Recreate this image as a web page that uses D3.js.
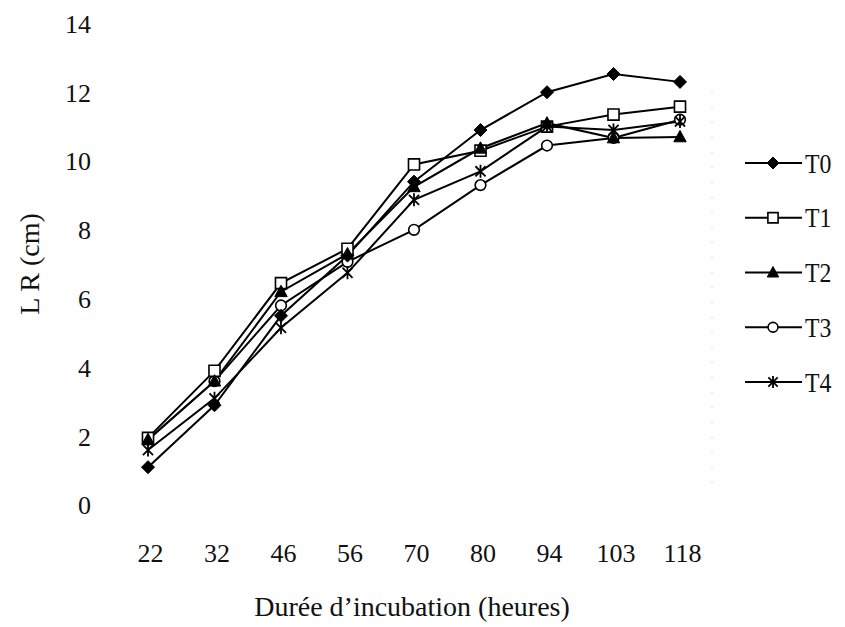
<!DOCTYPE html>
<html>
<head>
<meta charset="utf-8">
<script src="https://cdn.jsdelivr.net/npm/d3@7"></script>
<style>
  html, body { margin: 0; padding: 0; background: #fff; }
  svg { display: block; }
  text { font-family: "Liberation Serif", "Times New Roman", serif; fill: #111; }
</style>
</head>
<body>
<svg id="chart" width="845" height="627"></svg>
<script>
// Incubation durations (hours)
const categories = ["22", "32", "46", "56", "70", "80", "94", "103", "118"];
// Root length (cm) per treatment
const seriesNames = ["T0", "T1", "T2", "T3", "T4"];
const t0 = [1.1, 2.9, 5.5, 7.25, 9.4, 10.9, 12.0, 12.53, 12.3];
const t1 = [1.95, 3.9, 6.45, 7.45, 9.9, 10.3, 11.0, 11.35, 11.58];
const t2 = [1.9, 3.6, 6.2, 7.3, 9.25, 10.37, 11.1, 10.67, 10.7];
const t3 = [1.9, 3.6, 5.8, 7.07, 8.0, 9.3, 10.45, 10.67, 11.2];
const t4 = [1.6, 3.1, 5.15, 6.75, 8.87, 9.7, 11.0, 10.9, 11.15];
const yTicks = [0, 2, 4, 6, 8, 10, 12, 14];
const markerKinds = ["diamond", "square", "triangle", "circle", "star"];
// Order in which marker layers are stacked (open circles at the bottom)
const markerStack = ["T3", "T0", "T1", "T2", "T4"];

const seriesValues = [t0, t1, t2, t3, t4];
const series = seriesNames.map((name, i) => ({
  name,
  marker: markerKinds[i],
  points: categories.map((c, j) => ({ cat: c, value: seriesValues[i][j] }))
}));

const svg = d3.select("#chart");

const x = d3.scalePoint().domain(categories).range([148, 680]);
const y = d3.scaleLinear().domain([0, 14]).range([505, 23.4]);

// Marker path generators, centred on the origin
function markerPath(kind, s) {
  switch (kind) {
    case "diamond":
      return `M0,${-s}L${s},0L0,${s}L${-s},0Z`;
    case "square":
      return `M${-s * 0.85},${-s * 0.85}h${s * 1.7}v${s * 1.7}h${-s * 1.7}Z`;
    case "triangle":
      return `M0,${-s}L${s * 0.95},${s * 0.75}L${-s * 0.95},${s * 0.75}Z`;
    case "circle":
      return d3.symbol(d3.symbolCircle, Math.PI * (s * 0.82) ** 2)();
    case "star": {
      const d = s * 0.78;
      return `M0,${-s}V${s}M${-d},${-d}L${d},${d}M${d},${-d}L${-d},${d}`;
    }
  }
}
function markerStyle(sel, kind) {
  if (kind === "diamond" || kind === "triangle") {
    sel.attr("fill", "#000").attr("stroke", "#000").attr("stroke-width", 1);
  } else if (kind === "star") {
    sel.attr("fill", "none").attr("stroke", "#000").attr("stroke-width", 1.8);
  } else {
    sel.attr("fill", "#fff").attr("stroke", "#000").attr("stroke-width", 1.6);
  }
}

// Faint dotted plot edge on the right
svg.append("line")
  .attr("x1", 712).attr("x2", 712)
  .attr("y1", 92).attr("y2", 493)
  .attr("stroke", "#bbb").attr("stroke-width", 1)
  .attr("stroke-dasharray", "1,14");

// Y axis labels (no axis line)
const yAxis = d3.axisLeft(y).tickValues(yTicks).tickSize(0).tickPadding(0);
const gy = svg.append("g").attr("transform", "translate(91,0)").call(yAxis);
gy.select(".domain").remove();
gy.selectAll("text")
  .attr("font-family", "Liberation Serif, serif")
  .attr("font-size", 26)
  .attr("fill", "#111")
  .attr("dy", "0.34em");

// X axis labels (no axis line)
const xAxis = d3.axisBottom(x).tickSize(0).tickPadding(0);
const gx = svg.append("g").attr("transform", "translate(2,0)").call(xAxis);
gx.select(".domain").remove();
gx.selectAll("text")
  .attr("font-family", "Liberation Serif, serif")
  .attr("font-size", 26)
  .attr("fill", "#111")
  .attr("y", 562)
  .attr("dy", 0);

// Axis titles
svg.append("text")
  .attr("x", 412).attr("y", 616)
  .attr("text-anchor", "middle")
  .attr("font-size", 28)
  .text("Durée d’incubation (heures)");

svg.append("text")
  .attr("transform", "translate(39,264) rotate(-90)")
  .attr("text-anchor", "middle")
  .attr("font-size", 28)
  .text("L R (cm)");

// Series lines and markers
const line = d3.line().x(d => x(d.cat)).y(d => y(d.value));
const plot = svg.append("g");
series.forEach(s => {
  plot.append("path")
    .datum(s.points)
    .attr("d", line)
    .attr("fill", "none")
    .attr("stroke", "#000")
    .attr("stroke-width", 2);
});
markerStack.forEach(name => {
  const s = series.find(d => d.name === name);
  plot.append("g").selectAll("path")
    .data(s.points)
    .join("path")
    .attr("transform", d => `translate(${x(d.cat)},${y(d.value)})`)
    .attr("d", markerPath(s.marker, 6.5))
    .call(markerStyle, s.marker);
});

// Legend
const legend = svg.append("g");
const legendY = d3.scalePoint().domain(seriesNames).range([163, 382]);
series.forEach(s => {
  const g = legend.append("g").attr("transform", `translate(0,${legendY(s.name)})`);
  g.append("line")
    .attr("x1", 745).attr("x2", 802)
    .attr("stroke", "#000").attr("stroke-width", 2);
  g.append("path")
    .attr("transform", "translate(773,0)")
    .attr("d", markerPath(s.marker, 6))
    .call(markerStyle, s.marker);
  g.append("text")
    .attr("x", 805)
    .attr("dy", "0.34em")
    .attr("font-size", 28)
    .attr("transform", "translate(805,0) scale(0.85,1) translate(-805,0)")
    .text(s.name);
});
</script>
</body>
</html>
